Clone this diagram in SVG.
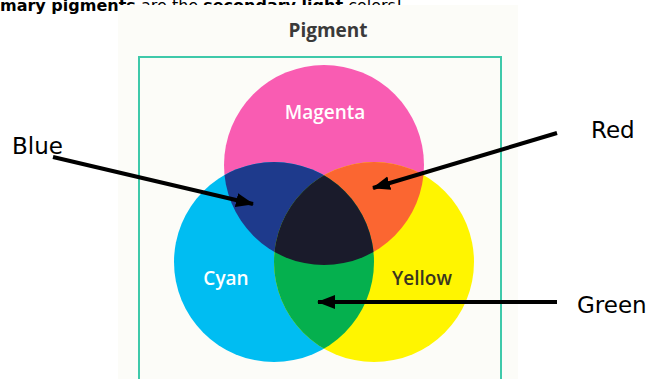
<svg xmlns="http://www.w3.org/2000/svg" width="652" height="379" viewBox="0 0 652 379">
<style>
.top{font-family:"DejaVu Sans",sans-serif;font-size:16px;fill:#000}
.b{font-weight:bold}
.title{font-family:"Open Sans","DejaVu Sans",sans-serif;font-size:19px;font-weight:bold;fill:#3a3a3a}
.cl{font-family:"Open Sans","DejaVu Sans",sans-serif;font-size:19px;font-weight:600;text-anchor:middle}
.lbl{font-family:"DejaVu Sans",sans-serif;font-size:23px;fill:#000}
.arr{stroke:#000;stroke-width:4;fill:none;marker-end:url(#ah)}
</style>
<defs>
<marker id="ah" markerUnits="userSpaceOnUse" markerWidth="20" markerHeight="16" refX="17" refY="8" orient="auto">
<path d="M0,1 L18,8 L0,15 Z" fill="#000"/>
</marker>
<clipPath id="cM"><circle cx="324" cy="165" r="100"/></clipPath>
<clipPath id="cC"><circle cx="274" cy="262" r="100"/></clipPath>
<clipPath id="cY"><circle cx="374" cy="262" r="100"/></clipPath>
</defs>
<rect width="652" height="379" fill="#fff"/>
<text class="top" x="0" y="11"><tspan class="b">mary pigments</tspan> are the <tspan class="b">secondary light</tspan> colors!</text>
<rect x="118" y="5" width="400" height="374" fill="#fcfcf8"/>
<text class="title" x="328" y="37" text-anchor="middle">Pigment</text>
<rect x="139" y="57" width="362" height="330" fill="none" stroke="#3fc9aa" stroke-width="2"/>
<g id="magenta"><circle cx="324" cy="165" r="100" fill="#f95cb2"/></g>
<g id="cyan"><circle cx="274" cy="262" r="100" fill="#00bdf2"/></g>
<g id="yellow"><circle cx="374" cy="262" r="100" fill="#fff500"/></g>
<g id="blue-overlap" clip-path="url(#cM)"><circle cx="274" cy="262" r="100" fill="#1e3a8c"/></g>
<g id="red-overlap" clip-path="url(#cM)"><circle cx="374" cy="262" r="100" fill="#fb6631"/></g>
<g id="green-overlap" clip-path="url(#cC)"><circle cx="374" cy="262" r="100" fill="#05b04e"/></g>
<g id="black-center" clip-path="url(#cM)"><g clip-path="url(#cC)"><circle cx="374" cy="262" r="100" fill="#1a1b2b"/></g></g>
<g id="labels-in">
<text class="cl" x="325" y="119" fill="#fff">Magenta</text>
<text class="cl" x="226" y="285" fill="#fff">Cyan</text>
<text class="cl" x="422" y="285" fill="#3a3520">Yellow</text>
</g>
<g id="connectors">
<line class="arr" x1="53" y1="157" x2="253" y2="204"/>
<line class="arr" x1="557" y1="133" x2="373" y2="188"/>
<line class="arr" x1="557" y1="302" x2="318" y2="302"/>
</g>
<g id="label-blue"><text class="lbl" x="12" y="154">Blue</text></g>
<g id="label-red"><text class="lbl" x="591" y="138">Red</text></g>
<g id="label-green"><text class="lbl" x="577" y="313">Green</text></g>
</svg>
